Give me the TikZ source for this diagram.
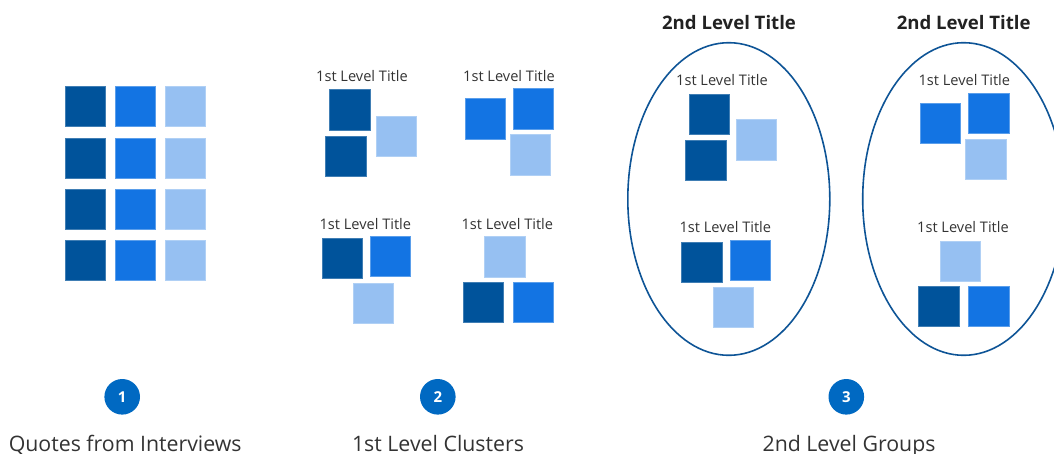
\documentclass[tikz,border=0pt]{standalone}
\usepackage{fontspec}
\setmainfont{Open Sans}
\definecolor{qdark}{RGB}{0,83,155}
\definecolor{qmid}{RGB}{19,116,227}
\definecolor{qlight}{RGB}{150,192,242}
\definecolor{ringblue}{RGB}{14,84,150}
\definecolor{stepblue}{RGB}{0,105,194}
\definecolor{txtgray}{RGB}{51,51,51}
\definecolor{headgray}{RGB}{34,34,34}
\tikzset{
  card/.style={rectangle, minimum size=40.3pt, inner sep=0pt, line width=1pt, anchor=north west},
  cdark/.style={card, fill=qdark, draw=qdark!75!white},
  cmid/.style={card, fill=qmid, draw=qmid!70!white},
  clight/.style={card, fill=qlight, draw=qlight!75!white},
  clustertitle/.style={anchor=base, inner sep=0pt, text=txtgray, font=\fontsize{14.6}{17}\selectfont},
  grouptitle/.style={anchor=base, inner sep=0pt, text=headgray, font=\bfseries\fontsize{18.6}{22}\selectfont},
  group/.style={ellipse, draw=ringblue, line width=1.6pt, minimum width=202pt, minimum height=312.6pt, inner sep=0pt},
  stepdot/.style={circle, fill=stepblue, minimum size=35.6pt, inner sep=0pt, text=white, font=\bfseries\fontsize{15}{17}\selectfont},
  caption/.style={anchor=base, inner sep=0pt, text=txtgray, font=\fontsize{21.3}{25}\selectfont},
}
\usetikzlibrary{shapes.geometric}
\begin{document}
\begin{tikzpicture}[x=1pt, y=-1pt]
\useasboundingbox (0,0) rectangle (1054,453);
\clip (0,0) rectangle (1054,453);

% Step 1: the raw quotes, a 3 x 4 grid
\foreach \r/\y in {1/86,2/138,3/189,4/240}{
  \node[cdark]  (q\r a) at (65,\y) {};
  \node[cmid]   (q\r b) at (115,\y) {};
  \node[clight] (q\r c) at (165,\y) {};
}

% Step 2: four first-level clusters
\node[clustertitle] (t1) at (362,81.5) {1st Level Title};
\node[cdark]  (c1a) at (329.3,89.3) {};
\node[clight] (c1b) at (376,115.7) {};
\node[cdark]  (c1c) at (325.3,136) {};

\node[clustertitle] (t2) at (509,81.5) {1st Level Title};
\node[cmid]   (c2a) at (465,98.3) {};
\node[cmid]   (c2b) at (512.7,88.3) {};
\node[clight] (c2c) at (509.7,134.3) {};

\node[clustertitle] (t3) at (365.3,229) {1st Level Title};
\node[cdark]  (c3a) at (321.7,237.7) {};
\node[cmid]   (c3b) at (370,235.7) {};
\node[clight] (c3c) at (353,283) {};

\node[clustertitle] (t4) at (507.3,229) {1st Level Title};
\node[clight] (c4a) at (484.3,236.3) {};
\node[cdark]  (c4b) at (462.7,282) {};
\node[cmid]   (c4c) at (512.7,282) {};

% Step 3: clusters gathered into second-level groups
\node[grouptitle] (g1t) at (729,29.3) {2nd Level Title};
\node[group] (g1) at (728.8,199) {};
\node[clustertitle] (g1t1) at (722,85.7) {1st Level Title};
\node[cdark]  (d1a) at (689,93.7) {};
\node[clight] (d1b) at (735.7,119.3) {};
\node[cdark]  (d1c) at (685.3,140) {};
\node[clustertitle] (g1t2) at (725.3,232.7) {1st Level Title};
\node[cdark]  (d2a) at (681.3,241.7) {};
\node[cmid]   (d2b) at (729.7,239.7) {};
\node[clight] (d2c) at (713,286.7) {};

\node[grouptitle] (g2t) at (963.7,29.3) {2nd Level Title};
\node[group] (g2) at (963.7,199) {};
\node[clustertitle] (g2t1) at (964.3,85.7) {1st Level Title};
\node[cmid]   (e1a) at (920,102.7) {};
\node[cmid]   (e1b) at (968.3,92.7) {};
\node[clight] (e1c) at (965.3,138.7) {};
\node[clustertitle] (g2t2) at (963,232.7) {1st Level Title};
\node[clight] (e2a) at (940,240.7) {};
\node[cdark]  (e2b) at (918.3,286) {};
\node[cmid]   (e2c) at (968.3,286) {};

% Step markers and captions
\node[stepdot] (s1) at (122.2,396.8) {1};
\node[stepdot] (s2) at (437.8,396.8) {2};
\node[stepdot] (s3) at (846.3,396.8) {3};
\node[caption] (l1) at (125.2,451) {Quotes from Interviews};
\node[caption] (l2) at (438,451) {1st Level Clusters};
\node[caption] (l3) at (849,451) {2nd Level Groups};
\end{tikzpicture}
\end{document}
